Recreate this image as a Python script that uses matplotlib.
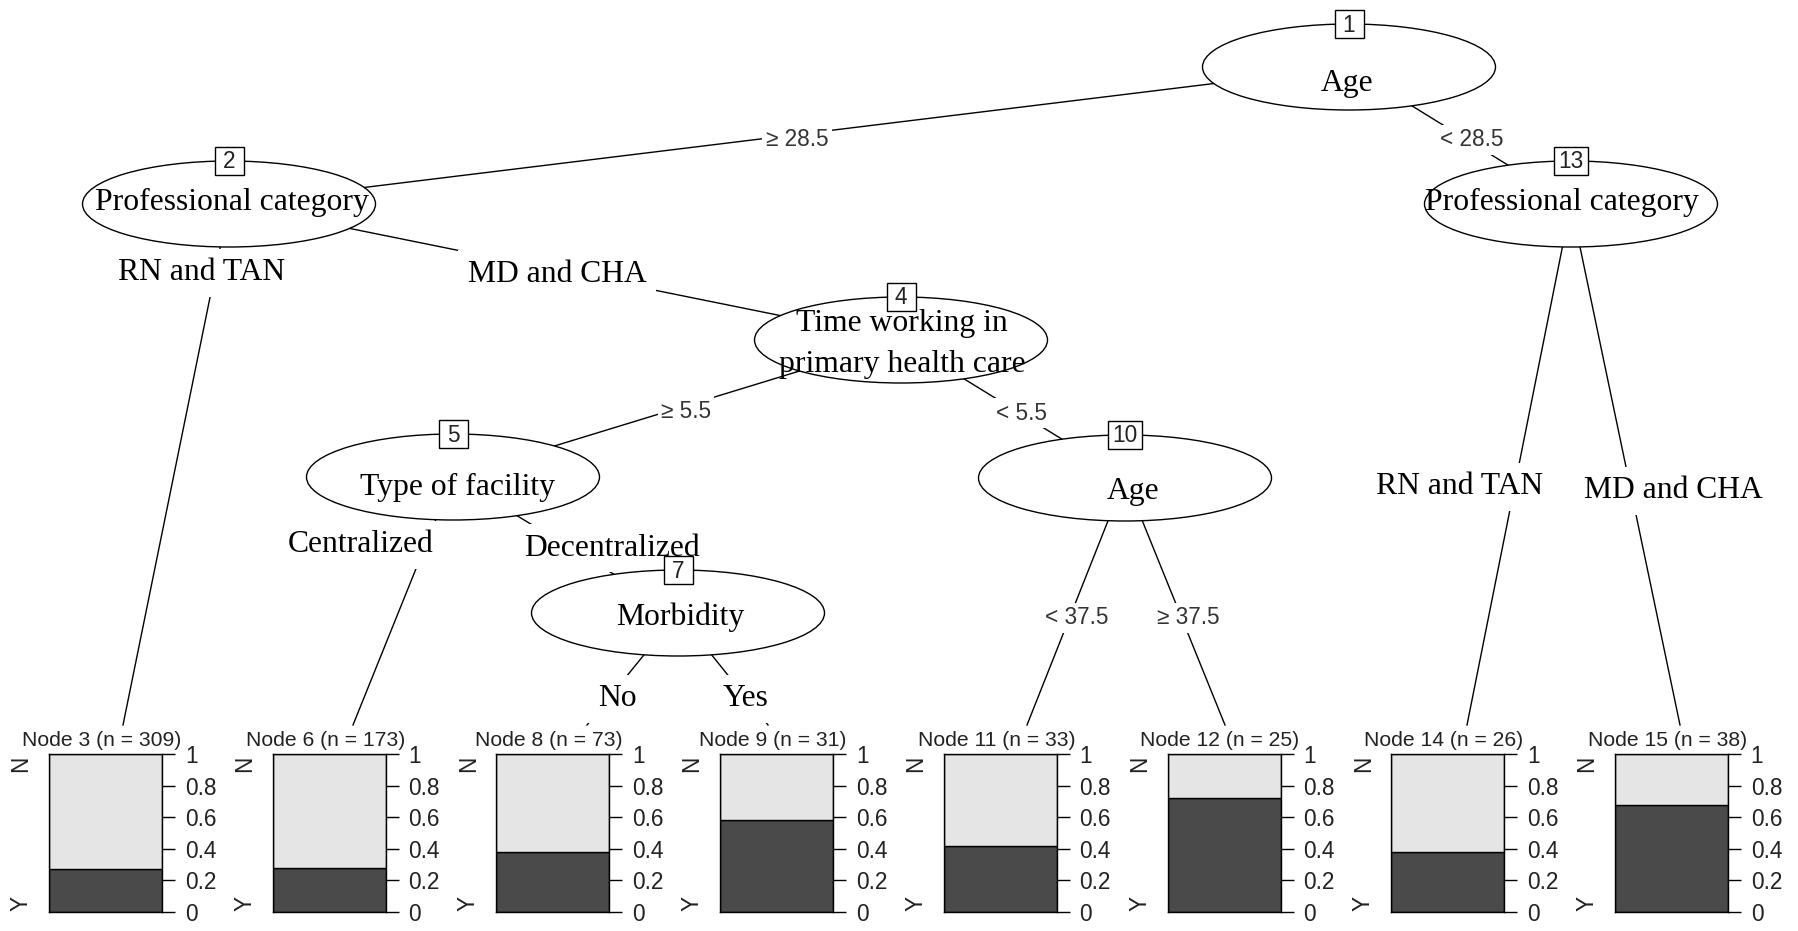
import matplotlib.pyplot as plt
from matplotlib.patches import Ellipse, Rectangle

W, H = 1798, 931

# terminal nodes: id, size and share of class "Y"
term_ids = [3, 6, 8, 9, 11, 12, 14, 15]
term_n = [309, 173, 73, 31, 33, 25, 26, 38]
term_yes = [0.27, 0.28, 0.38, 0.58, 0.42, 0.72, 0.38, 0.68]
class_labels = ["Y", "N"]
y_ticks = [0, 0.2, 0.4, 0.6, 0.8, 1]
y_tick_labels = ["0", "0.2", "0.4", "0.6", "0.8", "1"]

# inner nodes and their split variable
inner_ids = [1, 2, 4, 5, 7, 10, 13]
inner_vars = ["Age", "Professional category", "Time working in\nprimary health care",
              "Type of facility", "Morbidity", "Age", "Professional category"]

# edges (parent, child, label, kind)
edges = [(1, 2, "≥ 28.5", "num"), (1, 13, "< 28.5", "num"),
         (2, 3, "RN and TAN", "cat"), (2, 4, "MD and CHA", "cat"),
         (4, 5, "≥ 5.5", "num"), (4, 10, "< 5.5", "num"),
         (5, 6, "Centralized", "cat"), (5, 7, "Decentralized", "cat"),
         (7, 8, "No", "cat"), (7, 9, "Yes", "cat"),
         (10, 11, "< 37.5", "num"), (10, 12, "≥ 37.5", "num"),
         (13, 14, "RN and TAN", "cat"), (13, 15, "MD and CHA", "cat")]

# ---- layout (pixels, y down) ----
node_xy = {1: (1349, 67), 2: (229, 204), 4: (901, 340), 5: (453, 477),
           7: (678, 613), 10: (1125, 478), 13: (1571, 204)}
label_xy = {1: (1347, 83), 2: (232, 202), 4: (902, 344), 5: (457, 487),
            7: (680, 617), 10: (1133, 491), 13: (1562, 202)}
term_anchor_x = [123, 353, 587, 768, 1027, 1225, 1467, 1680]
term_top = 725
edge_label_xy = {(1, 2): (797, 140), (1, 13): (1472, 140), (2, 3): (202, 273),
                 (2, 4): (557, 274), (4, 5): (686, 411), (4, 10): (1022, 413),
                 (5, 6): (361, 545), (5, 7): (612, 548), (7, 8): (617, 699),
                 (7, 9): (746, 699), (10, 11): (1077, 618), (10, 12): (1188, 618),
                 (13, 14): (1460, 487), (13, 15): (1673, 491)}
ell_w, ell_h = 293, 86
bar_w, bar_top, bar_bot = 113, 754, 912

serif = "Liberation Serif"
sans = "Liberation Sans"
fs_serif, fs_sans, fs_title = 22.8, 16.3, 15.2
dark = "#4a4a4a"
light = "#e5e5e5"

fig = plt.figure(figsize=(W / 100, H / 100), dpi=100)
ax = fig.add_axes([0, 0, 1, 1])
ax.set_xlim(0, W)
ax.set_ylim(H, 0)
ax.axis("off")

pos = dict(node_xy)
for i, t in enumerate(term_ids):
    pos[t] = (term_anchor_x[i], term_top)

# edges
for p, c, lab, kind in edges:
    (x0, y0), (x1, y1) = pos[p], pos[c]
    ax.plot([x0, x1], [y0, y1], color="black", lw=1.0, zorder=1)
    lx, ly = edge_label_xy[(p, c)]
    if kind == "num":
        ax.text(lx, ly, lab, fontsize=fs_sans, family=sans, color="#333333",
                ha="center", va="center", zorder=5,
                bbox=dict(boxstyle="square,pad=0.15", fc="white", ec="none"))
    else:
        ax.text(lx, ly, lab, fontsize=fs_serif, family=serif, color="black",
                ha="center", va="center", zorder=1.5,
                bbox=dict(boxstyle="square,pad=0.3", fc="white", ec="none"))

# inner nodes
for nid, var in zip(inner_ids, inner_vars):
    x, y = node_xy[nid]
    ax.add_patch(Ellipse((x, y), ell_w, ell_h, fc="white", ec="black", lw=1.0, zorder=2))
    bw = 29 if nid < 10 else 34
    ax.add_patch(Rectangle((x - bw / 2, y - ell_h / 2 - 14), bw, 28,
                           fc="white", ec="black", lw=1.0, zorder=3))
    ax.text(x, y - ell_h / 2 + 1, str(nid), fontsize=fs_sans, family=sans,
            color="#222222", ha="center", va="center", zorder=4)
    lx, ly = label_xy[nid]
    lines = var.split("\n")
    for k, line in enumerate(lines):
        ax.text(lx, ly + (k - (len(lines) - 1) / 2) * 41, line, fontsize=fs_serif,
                family=serif, color="black", ha="center", va="center", zorder=6)

# terminal bar panels
for i, t in enumerate(term_ids):
    left = 49 + 223.7 * i
    bax = fig.add_axes([left / W, (H - bar_bot) / H, bar_w / W, (bar_bot - bar_top) / H])
    bax.bar(0, term_yes[i], width=1, color=dark, edgecolor="black", lw=1.0)
    bax.bar(0, 1 - term_yes[i], bottom=term_yes[i], width=1, color=light,
            edgecolor="black", lw=1.0)
    bax.set_xlim(-0.5, 0.5)
    bax.set_ylim(0, 1)
    bax.set_xticks([])
    bax.yaxis.tick_right()
    bax.set_yticks(y_ticks)
    bax.set_yticklabels(y_tick_labels, fontsize=fs_sans, family=sans, color="#222222")
    bax.tick_params(axis="y", length=9.4, width=1.0, pad=7)
    for s in bax.spines.values():
        s.set_linewidth(1.0)
    ax.text(left + bar_w / 2 - 4, 741, f"Node {t} (n = {term_n[i]})", fontsize=fs_title,
            family=sans, color="#222222", ha="center", va="center")
    ax.text(left - 28, 903, class_labels[0], fontsize=fs_sans, family=sans,
            color="#222222", rotation=90, ha="center", va="center")
    ax.text(left - 28, 764, class_labels[1], fontsize=fs_sans, family=sans,
            color="#222222", rotation=90, ha="center", va="center")

fig.savefig("out.png", dpi=100)
